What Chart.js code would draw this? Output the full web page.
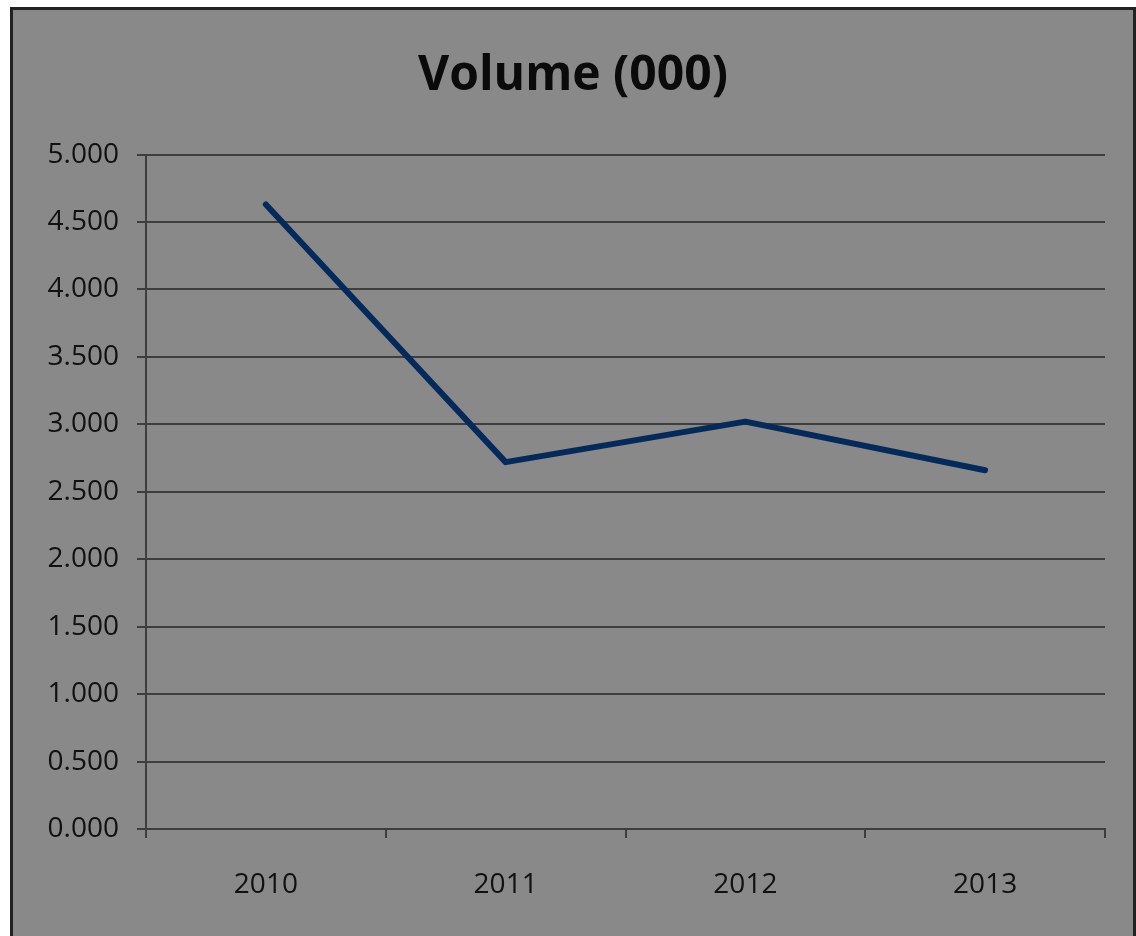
<!DOCTYPE html>
<html>
<head>
<meta charset="utf-8">
<script src="https://cdn.jsdelivr.net/npm/chart.js@4/dist/chart.umd.min.js"></script>
<style>
  body { margin: 0; background: #ffffff; overflow: hidden; }
  #frame {
    position: absolute; left: 10px; top: 7px;
    width: 1120px; height: 940px;
    border: 3px solid #222222;
    background: #898989;
  }
  canvas { display: block; }
</style>
</head>
<body>
<div id="frame"><canvas id="chartVolume" width="1120" height="940"></canvas></div>
<script>
var anios    = ['2010', '2011', '2012', '2013'];
var volumen  = [4.63, 2.72, 3.02, 2.66];
var tituloGrafico = 'Volume (000)';

var lineaGris = '#3e3e3e';
var cxt = document.getElementById('chartVolume');
var grafico = new Chart(cxt, {
  type: 'line',
  data: {
    labels: anios,
    datasets: [{
      label: 'Volume',
      data: volumen,
      borderColor: '#042a5c',
      borderWidth: 6,
      borderCapStyle: 'round',
      borderJoinStyle: 'round',
      pointRadius: 0,
      tension: 0,
      fill: false
    }]
  },
  options: {
    responsive: false,
    animation: false,
    // mismo relleno a ambos lados para que el titulo quede centrado
    layout: { padding: { left: 28, right: 28, top: 0, bottom: 0 } },
    plugins: {
      legend: { display: false },
      tooltip: { enabled: false },
      title: {
        display: true,
        text: tituloGrafico,
        color: '#0a0a0a',
        font: { family: 'Open Sans', size: 48, weight: 'bold' },
        padding: { top: 38, bottom: 49 }
      }
    },
    scales: {
      x: {
        offset: true,
        grid: {
          display: true,
          offset: true,
          drawOnChartArea: false,
          drawTicks: true,
          tickLength: 9,
          color: lineaGris,
          lineWidth: 2
        },
        border: { display: true, color: lineaGris, width: 2 },
        ticks: {
          color: '#111111',
          font: { family: 'Open Sans', size: 28 },
          padding: 30
        },
        afterFit: function(scale) { scale.height = 121; }
      },
      y: {
        min: 0,
        max: 5,
        grid: {
          color: lineaGris,
          lineWidth: 2,
          drawTicks: true,
          tickLength: 9
        },
        border: { display: true, color: lineaGris, width: 2 },
        ticks: {
          stepSize: 0.5,
          color: '#111111',
          font: { family: 'Open Sans', size: 28 },
          padding: 18,
          callback: function(v) { return v.toFixed(3); }
        },
        afterFit: function(scale) { scale.width = 105; }
      }
    }
  }
});
</script>
</body>
</html>
